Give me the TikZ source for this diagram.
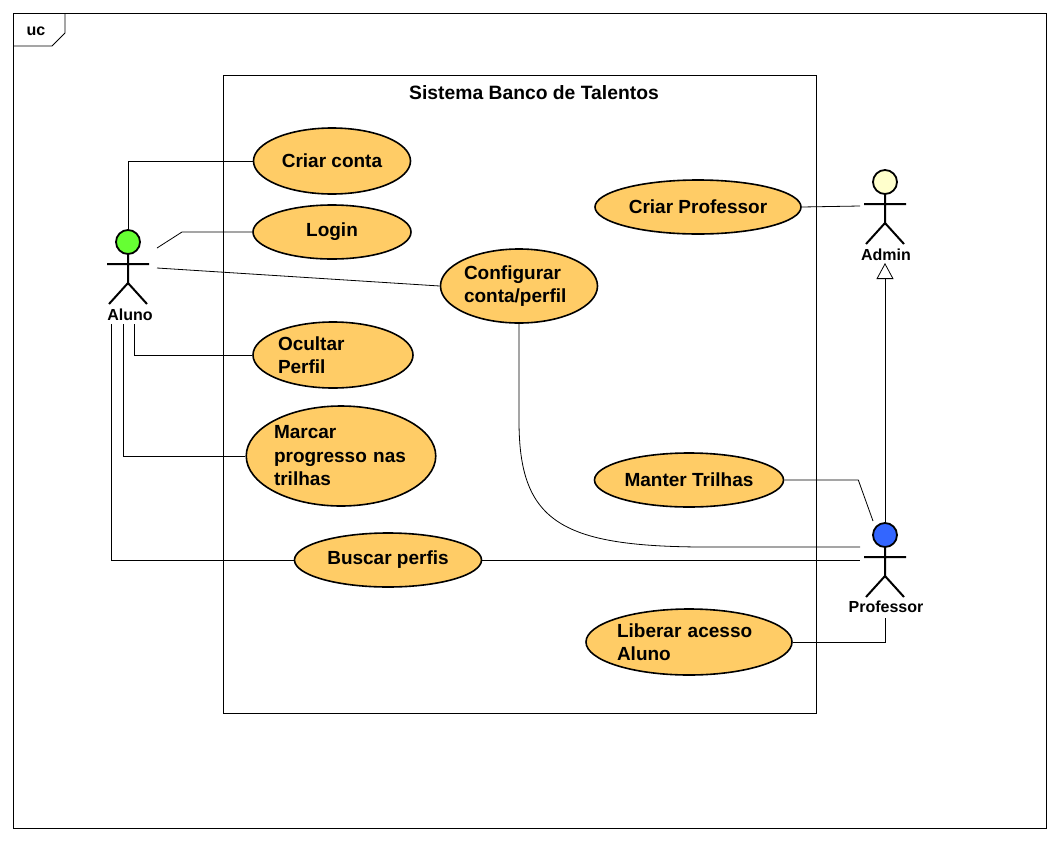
\documentclass[tikz,border=0pt]{standalone}
\usepackage{fontspec}
\setmainfont{Liberation Sans}
\usetikzlibrary{arrows.meta, calc, shapes.geometric}

\definecolor{ucfill}{RGB}{255,204,102}
\definecolor{alunocol}{RGB}{102,255,51}
\definecolor{admincol}{RGB}{255,255,204}
\definecolor{profcol}{RGB}{51,102,255}

\begin{document}
\begin{tikzpicture}[
    x=1pt, y=-1pt,
    usecase/.style={draw, ellipse, fill=ucfill, line width=1.6pt, inner sep=0pt,
                    font=\fontsize{19}{23.5}\selectfont\bfseries},
    head/.style={draw, circle, line width=1.8pt, minimum size=24pt, inner sep=0pt},
    actorname/.style={font=\fontsize{16}{19}\selectfont\bfseries},
    link/.style={line width=0.8pt},
    gen/.style={-{Triangle[open, length=16pt, width=17pt]}, line width=0.8pt},
    frame/.style={line width=0.8pt},
    pics/stickman/.style={code={
        \draw[line width=2pt] (0,12) -- (0,41) (-21,22) -- (21,22)
              (-19,62) -- (0,41) -- (19,62);
    }}
]
\fill[white] (0,0) rectangle (1060,841);
\useasboundingbox (0,0) rectangle (1060,841);

% frame
\draw[frame] (13,13) rectangle (1046,828);
\draw[frame] (13,46) -- (52,46) -- (65,33) -- (65,13);
\node[font=\fontsize{16}{19}\selectfont\bfseries] (uc) at (36,31) {uc};

% system
\draw[frame] (223,75) rectangle (816,713);
\node[font=\fontsize{19.3}{23}\selectfont\bfseries] (sys) at (534,93) {Sistema Banco de Talentos};

% use cases
\node[usecase, minimum width=157pt, minimum height=66pt] (criar) at (332,161) {Criar conta};
\node[usecase, minimum width=158pt, minimum height=54pt] (login) at (332,232) {Login};
\node[usecase, minimum width=157pt, minimum height=74pt, text width=110pt, align=left] (config) at (519,286) {Configurar\\conta/perfil};
\node[usecase, minimum width=160pt, minimum height=66pt, text width=110pt, align=left] (ocultar) at (333,355) {Ocultar\\Perfil};
\node[usecase, minimum width=189pt, minimum height=100pt, text width=134pt, align=left] (marcar) at (341,456) {Marcar\\progresso nas\\trilhas};
\node[usecase, minimum width=187pt, minimum height=54pt] (buscar) at (388,560) {Buscar perfis};
\node[usecase, minimum width=206pt, minimum height=54pt] (criarprof) at (698,207) {Criar Professor};
\node[usecase, minimum width=189pt, minimum height=54pt] (manter) at (689,480) {Manter Trilhas};
\node[usecase, minimum width=206pt, minimum height=66pt, text width=144pt, align=left] (liberar) at (689,642) {Liberar acesso\\Aluno};

% actors
\pic at (128,242) {stickman};
\node[head, fill=alunocol] (aluno) at (128,242) {};
\node[actorname] (alunolbl) at ($(aluno)+(2,73)$) {Aluno};

\pic at (885,182) {stickman};
\node[head, fill=admincol] (admin) at (885,182) {};
\node[actorname] (adminlbl) at ($(admin)+(1,73)$) {Admin};

\pic at (885,535) {stickman};
\node[head, fill=profcol] (prof) at (885,535) {};
\node[actorname] (proflbl) at ($(prof)+(1,72)$) {Professor};

% Aluno links
\draw[link] (aluno.north) |- (criar.west);
\draw[link] ($(aluno)+(29,6)$) -- ($(aluno)+(54,-10)$) -- (login.west);
\draw[link] ($(aluno)+(29,26)$) -- (config.west);
\draw[link] ($(aluno)+(6,82)$) |- (ocultar.west);
\draw[link] ($(aluno)+(-5,82)$) |- (marcar.west);
\draw[link] ($(aluno)+(-17,82)$) |- (buscar.west);

% Professor links
\draw[link] (buscar.east) -- ($(prof)+(-25,25)$);
\draw[link] (config.south) -- ($(config.south)+(0,97)$)
    .. controls ($(config.south)+(0,197)$) and ($(prof)+(-325,11)$)
    .. ($(prof)+(-185,12)$) -- ($(prof)+(-25,12)$);
\draw[link] (manter.east) -- ($(manter.east)+(74,0)$) -- ($(prof)+(-12,-14)$);
\draw[link] (liberar.east) -| ($(prof)+(0,83)$);
\draw[gen] (prof.north) -- ($(admin)+(0,81)$);

% Admin link
\draw[link] (criarprof.east) -- ($(admin)+(-25,24)$);
\end{tikzpicture}
\end{document}
